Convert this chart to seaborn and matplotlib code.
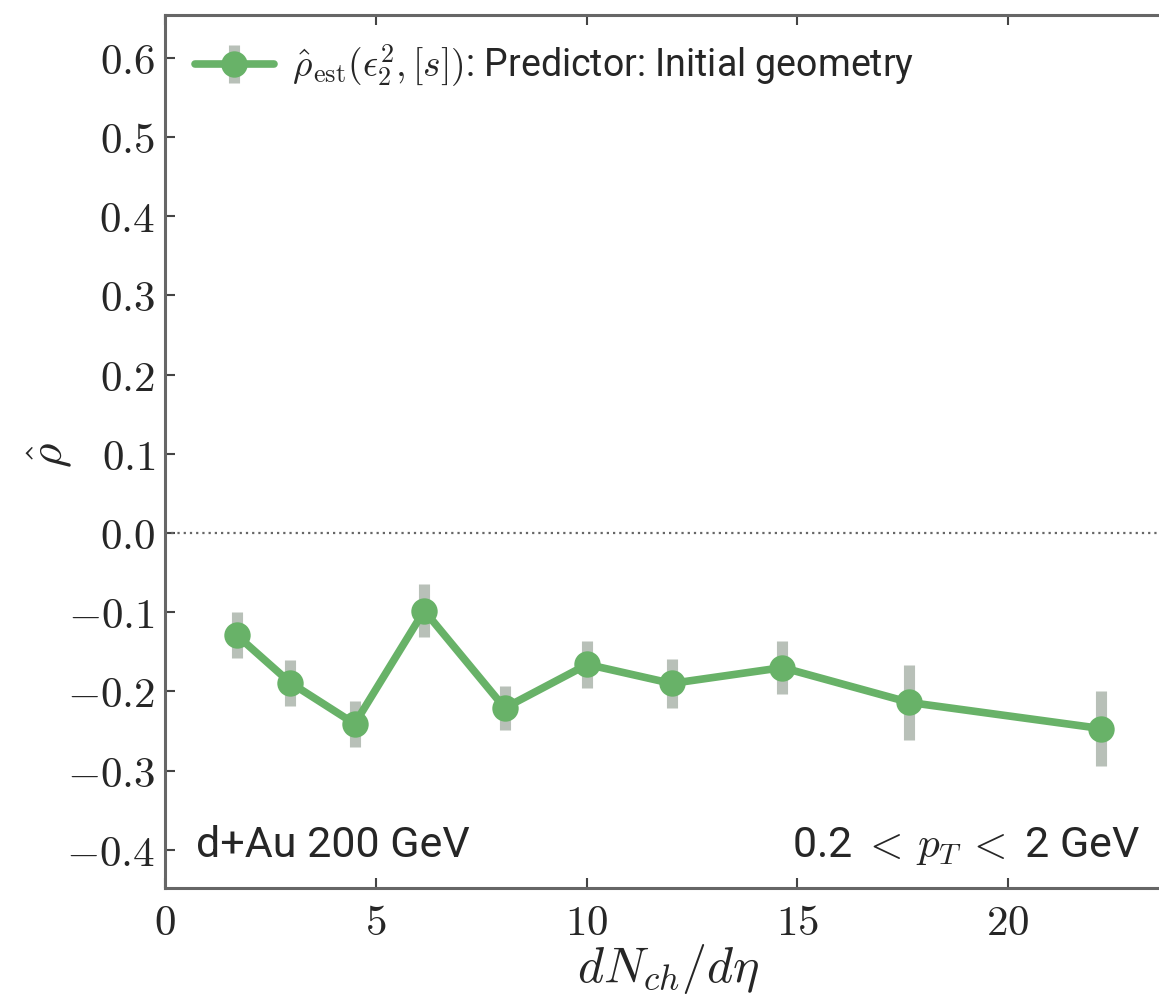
import numpy as np
import pandas as pd
import seaborn as sns
import matplotlib
matplotlib.use("Agg")
import matplotlib.pyplot as plt
from matplotlib.ticker import FuncFormatter, MultipleLocator
from matplotlib.legend_handler import HandlerTuple

# Estimated correlation vs. charged-particle multiplicity (d+Au, 200 GeV)
dndeta = [1.70, 2.97, 4.50, 6.15, 8.06, 10.02, 12.02, 14.65, 17.66, 22.21]
rho_est = [-0.129, -0.189, -0.241, -0.098, -0.221, -0.166, -0.190, -0.170, -0.214, -0.247]
rho_err = [0.029, 0.029, 0.029, 0.033, 0.028, 0.030, 0.031, 0.033, 0.047, 0.047]

legend_label = r"$\hat{\rho}_{\rm est}(\epsilon_2^2, [s])$: Predictor: Initial geometry"
system_label = "d+Au 200 GeV"
pt_label = r"0.2 $<\,p_T\,<$ 2 GeV"
xlabel = r"$dN_{ch}/d\eta$"
ylabel = r"$\hat{\rho}$"

sns.set_style("ticks")
plt.rcParams["font.family"] = ["Roboto", "DejaVu Sans"]
plt.rcParams["mathtext.fontset"] = "cm"

df = pd.DataFrame({"dndeta": dndeta, "rho": rho_est, "err": rho_err})

W, H = 1159, 994
fig = plt.figure(figsize=(W / 100, H / 100), dpi=100)

# axes geometry in pixels
x0_px, y_bot_px, y_top_px = 165, 888, 15
px_per_unit = 42.15
xmax = 24.6
ax_w_px = xmax * px_per_unit
ax_h_px = y_bot_px - y_top_px
ax = fig.add_axes([x0_px / W, (H - y_bot_px) / H, ax_w_px / W, ax_h_px / H])

green = "#68b268"
bar_grey = "#b8c0b8"

ax.axhline(0.0, color="#666666", ls=(0, (1.0, 1.8)), lw=1.6, zorder=1)

errc = ax.errorbar(df["dndeta"], df["rho"], yerr=df["err"], fmt="none",
                   ecolor=bar_grey, elinewidth=8, capsize=0, zorder=2)

sns.lineplot(data=df, x="dndeta", y="rho", ax=ax, color=green, lw=5.5,
             marker="o", markersize=19, markeredgewidth=0, zorder=3,
             legend=False)
line = ax.lines[-1]

ax.set_xlim(0, xmax)
ax.set_ylim(-0.4484, 0.6543)
ax.xaxis.set_major_locator(MultipleLocator(5))
ax.yaxis.set_major_locator(MultipleLocator(0.1))

fmt_x = FuncFormatter(lambda v, p: f"${v:.0f}$")
fmt_y = FuncFormatter(lambda v, p: f"${v:.1f}$" if abs(v) > 1e-9 else "$0.0$")
ax.xaxis.set_major_formatter(fmt_x)
ax.yaxis.set_major_formatter(fmt_y)

ax.tick_params(axis="both", which="major", direction="in", length=7, width=1.5,
               color="#444444", labelsize=31, top=True, right=True)
ax.tick_params(axis="x", pad=11)
ax.tick_params(axis="y", pad=7)
for s in ax.spines.values():
    s.set_linewidth(2.2)
    s.set_color("#666666")

ax.set_xlabel(xlabel, fontsize=36)
ax.xaxis.set_label_coords((668 - x0_px) / ax_w_px, (y_bot_px - 942) / ax_h_px)
ax.xaxis.label.set_va("top")
ax.set_ylabel(ylabel, fontsize=34)
ax.yaxis.set_label_coords((50 - x0_px) / ax_w_px, (y_bot_px - 455) / ax_h_px)
ax.yaxis.label.set_va("center")

ax.legend([(errc, line)], [legend_label], handler_map={tuple: HandlerTuple(ndivide=1)},
          loc="center left", bbox_to_anchor=(195 / W, 1 - 66 / H),
          bbox_transform=fig.transFigure, frameon=False, borderpad=0,
          borderaxespad=0, fontsize=27, handlelength=2.1, handletextpad=0.5)

ax.text((196 - x0_px) / ax_w_px, (y_bot_px - 857) / ax_h_px, system_label,
        transform=ax.transAxes, ha="left", va="baseline", fontsize=31)
ax.text((1140 - x0_px) / ax_w_px, (y_bot_px - 857) / ax_h_px, pt_label,
        transform=ax.transAxes, ha="right", va="baseline", fontsize=31)

fig.savefig("out.png", dpi=100)
